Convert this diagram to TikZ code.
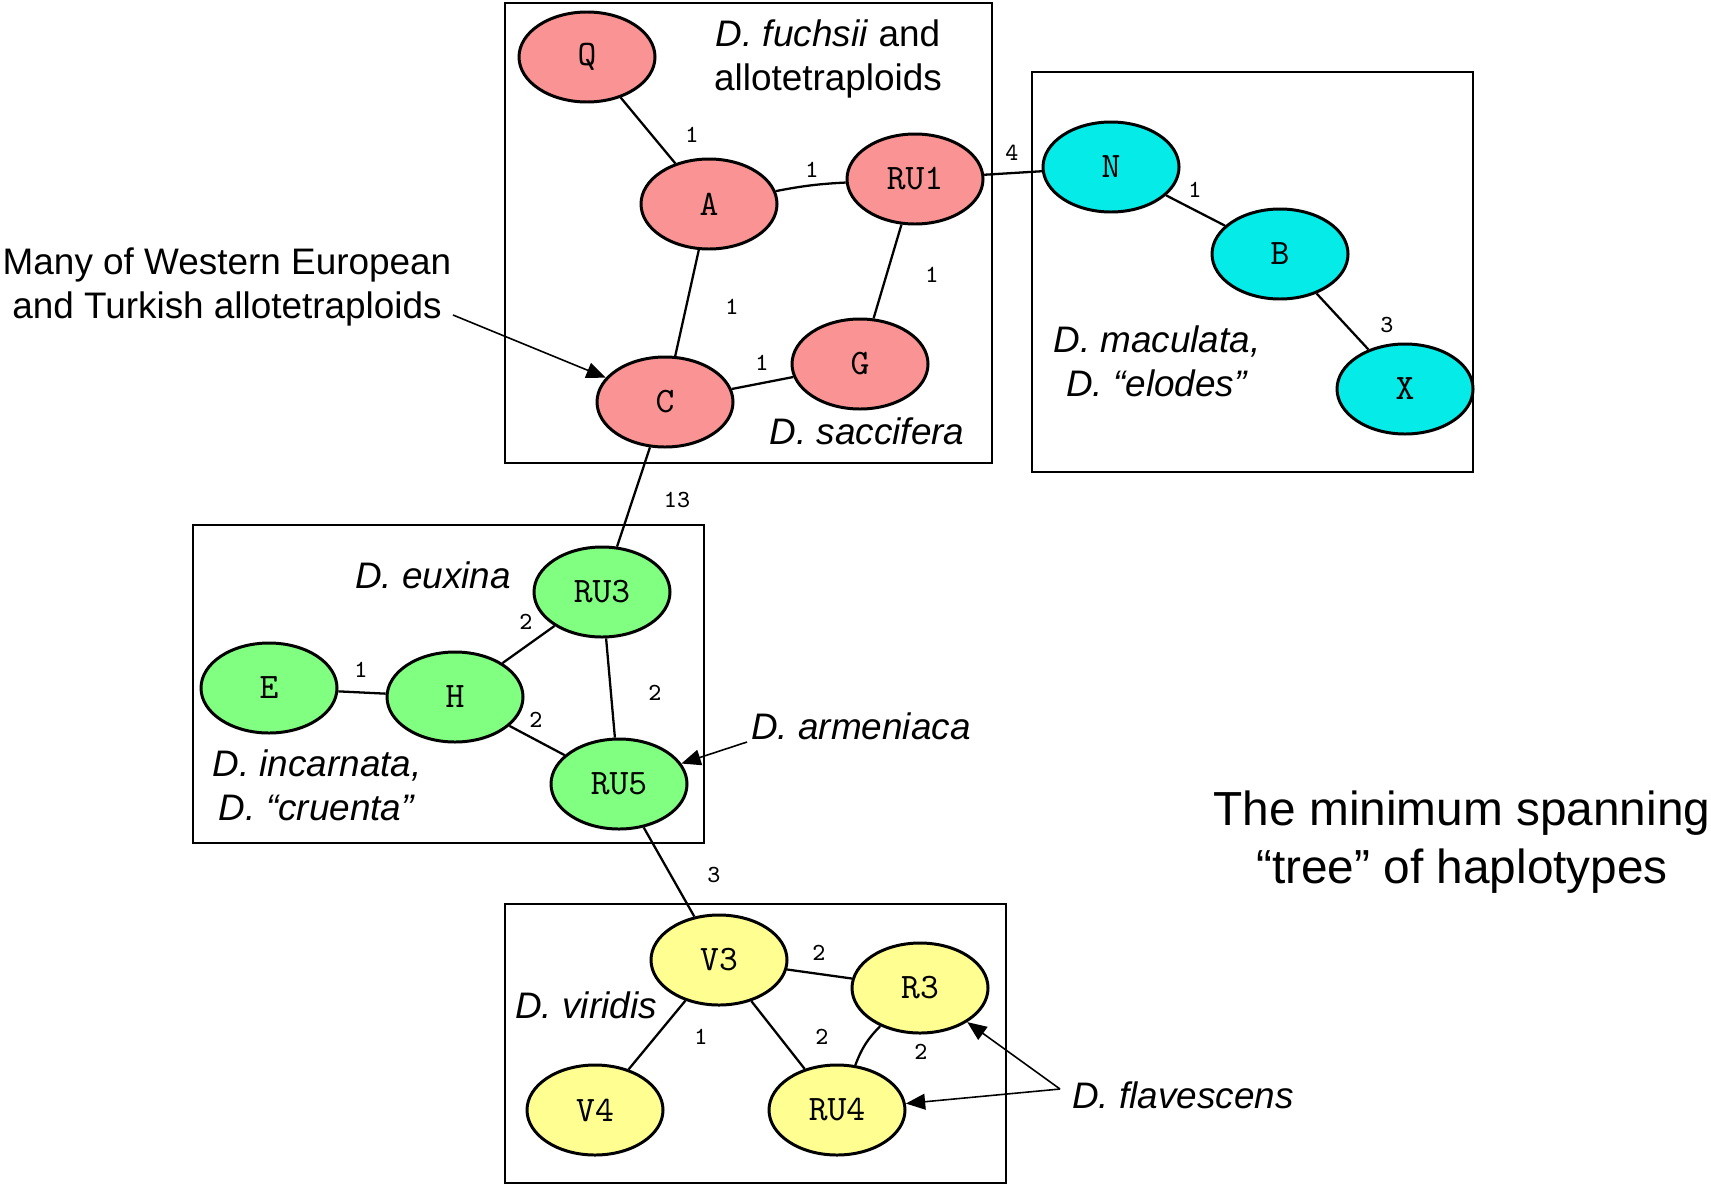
\documentclass[tikz,border=0pt]{standalone}
\usepackage{fontspec}
\setmainfont{Liberation Sans}
\usetikzlibrary{shapes.geometric,arrows.meta}

\definecolor{hpink}{RGB}{250,148,148}
\definecolor{hcyan}{RGB}{4,235,232}
\definecolor{hgreen}{RGB}{128,255,128}
\definecolor{hyellow}{RGB}{255,255,145}

\begin{document}
\begin{tikzpicture}[x=0.1mm, y=-0.1mm,
		hap/.style={ellipse, draw, line width=0.85pt, minimum width=13.6mm, minimum height=9mm, inner sep=0pt, font=\fontsize{10.2}{12}\selectfont\ttfamily},
		num/.style={inner sep=0pt, font=\fontsize{7}{8}\selectfont\ttfamily},
		lab/.style={align=center, inner sep=0pt, font=\fontsize{10.5}{12.5}\selectfont},
		link/.style={line width=0.65pt},
		pointer/.style={line width=0.45pt, -{Triangle[length=5.5pt,width=4.5pt]}}]
				\useasboundingbox (0,0) rectangle (1711,1188);
				
				\draw [line width=0.55pt] (505,3) rectangle (992,463);
				\draw [line width=0.55pt] (1032,72) rectangle (1473,472);
				\draw [line width=0.55pt] (193,525) rectangle (704,843);
				\draw [line width=0.55pt] (505,904) rectangle (1006,1183);
				
				% haplotypes
				\node [hap, fill=hpink] (Q) at (587,57) {Q};
				\node [hap, fill=hpink] (A) at (709,204) {A};
				\node [hap, fill=hpink] (RU1) at (915,179) {RU1};
				\node [hap, fill=hpink] (C) at (665,402) {C};
				\node [hap, fill=hpink] (G) at (860,364) {G};
				
				\node [hap, fill=hcyan] (N) at (1111,167) {N};
				\node [hap, fill=hcyan] (B) at (1280,254) {B};
				\node [hap, fill=hcyan] (X) at (1405,389) {X};
				
				\node [hap, fill=hgreen] (E) at (269,688) {E};
				\node [hap, fill=hgreen] (H) at (455,697) {H};
				\node [hap, fill=hgreen] (RU3) at (602,592) {RU3};
				\node [hap, fill=hgreen] (RU5) at (619,784) {RU5};
				
				\node [hap, fill=hyellow] (V3) at (719,960) {V3};
				\node [hap, fill=hyellow] (R3) at (920,988) {R3};
				\node [hap, fill=hyellow] (V4) at (595,1110) {V4};
				\node [hap, fill=hyellow] (RU4) at (837,1110) {RU4};
				
				\draw [link] (Q) -- (A);
				\draw [link] (A) to [bend left=4] (RU1);
				\draw [link] (RU1) -- (G);
				\draw [link] (A) -- (C);
				\draw [link] (C) -- (G);
				\draw [link] (RU1) -- (N);
				\draw [link] (N) -- (B);
				\draw [link] (B) -- (X);
				\draw [link] (C) -- (RU3);
				\draw [link] (E) -- (H);
				\draw [link] (H) -- (RU3);
				\draw [link] (H) -- (RU5);
				\draw [link] (RU3) -- (RU5);
				\draw [link] (RU5) -- (V3);
				\draw [link] (V3) -- (R3);
				\draw [link] (V3) -- (V4);
				\draw [link] (V3) -- (RU4);
				\draw [link] (R3) to [bend right=12] (RU4);
				
				% steps
				\node [num] (sQA) at (692,135) {1};
				\node [num] (sARU1) at (812,170) {1};
				\node [num] (sRU1G) at (932,275) {1};
				\node [num] (sAC) at (732,307) {1};
				\node [num] (sCG) at (762,363) {1};
				\node [num] (sRU1N) at (1012,153) {4};
				\node [num] (sNB) at (1195,190) {1};
				\node [num] (sBX) at (1387,325) {3};
				\node [num] (sCRU3) at (677,500) {13};
				\node [num] (sEH) at (361,670) {1};
				\node [num] (sHRU3) at (526,622) {2};
				\node [num] (sHRU5) at (536,720) {2};
				\node [num] (sRU3RU5) at (655,693) {2};
				\node [num] (sRU5V3) at (714,875) {3};
				\node [num] (sV3R3) at (819,953) {2};
				\node [num] (sV3V4) at (701,1037) {1};
				\node [num] (sV3RU4) at (822,1037) {2};
				\node [num] (sR3RU4) at (921,1052) {2};
				
				% species
				\node [lab] (fuchsii) at (828,59) {\textit{D. fuchsii} and\\allotetraploids};
				\node [lab] (saccifera) at (867,431) {\textit{D. saccifera}};
				\node [lab] (maculata) at (1157,361) {\textit{D. maculata,}\\\textit{D. “elodes”}};
				\node [lab] (euxina) at (433,575) {\textit{D. euxina}};
				\node [lab] (incarnata) at (317,785) {\textit{D. incarnata,}\\\textit{D. “cruenta”}};
				\node [lab] (armeniaca) at (861,726) {\textit{D. armeniaca}};
				\node [lab] (viridis) at (586,1005) {\textit{D. viridis}};
				\node [lab] (flavescens) at (1183,1095) {\textit{D. flavescens}};
				\node [lab] (western) at (227,287) {Many of Western European\\and Turkish allotetraploids};
				
				\node [align=center, inner sep=0pt, font=\fontsize{13.6}{16.4}\selectfont] (title) at (1462,842) {The minimum spanning\\“tree” of haplotypes};
				
				\coordinate (westfoot) at (453,315);
				\coordinate (armfoot) at (747,742);
				\coordinate (flavfoot) at (1060,1089);
				\draw [pointer] (westfoot) -- (C);
				\draw [pointer] (armfoot) -- (RU5);
				\draw [pointer] (flavfoot) -- (R3);
				\draw [pointer] (flavfoot) -- (RU4);
\end{tikzpicture}
\end{document}
